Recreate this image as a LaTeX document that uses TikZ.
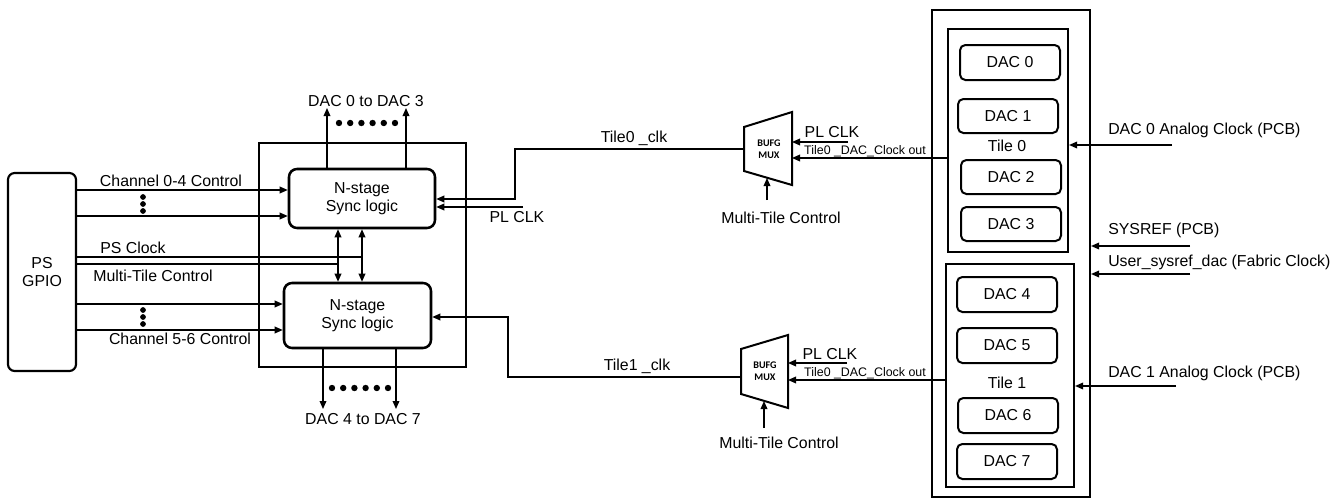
\documentclass[tikz,border=0pt]{standalone}
\usepackage{fontspec}
\setmainfont{Liberation Sans}
\newfontfamily\carl{Carlito}
\usetikzlibrary{arrows.meta,fit}
\begin{document}
\begin{tikzpicture}[x=0.75pt,y=-0.75pt,
  font=\fontsize{11.9}{14}\selectfont,
  ln/.style={line width=1pt},
  arr/.style={ln,-{Triangle[length=6pt,width=5pt]}},
  darr/.style={ln,{Triangle[length=6pt,width=5pt]}-{Triangle[length=6pt,width=5pt]}},
  thickbox/.style={draw,line width=1.6pt,inner sep=0pt},
  rbox/.style={draw,line width=1.9pt,rounded corners=6pt,inner sep=0pt},
  dacbox/.style={draw,line width=1.5pt,rounded corners=4pt,inner sep=0pt},
  lbl/.style={inner sep=0pt},
  ctext/.style={inner sep=0pt,align=center},
  small/.style={inner sep=0pt,font=\fontsize{9.3}{11}\selectfont},
  dot/.style={circle,fill,inner sep=0pt,minimum size=4.8pt},
  vdot/.style={circle,fill,inner sep=0pt,minimum size=4.3pt},
  muxs/.style={draw,line width=1.5pt,line join=miter},
  muxt/.style={inner sep=0pt,align=center,font=\carl\bfseries\fontsize{7.6}{9}\selectfont}
]
\useasboundingbox (0,0) rectangle (1343,500);

% ---------- left part ----------
\node[rbox,rounded corners=5pt,line width=1.6pt,fit={(8,173)(76,371)}] (gpio) {};
\node[ctext] (gpiot) at (gpio.center) {PS\\GPIO};
\node[thickbox,fit={(259,143)(466,367)}] (blk) {};
\node[rbox,fit={(289,169)(435,228)}] (s0) {};
\node[ctext,font=\fontsize{11.9}{13.5}\selectfont] (s0t) at (s0.center) {N-stage\\Sync logic};
\node[rbox,fit={(284,283)(431,348)}] (s1) {};
\node[ctext,font=\fontsize{11.9}{13.5}\selectfont] (s1t) at (s1.center) {N-stage\\Sync logic};

% channel 0-4
\node[lbl] (ch04) at (171,181) {Channel 0-4 Control};
\draw[arr] (gpio.east |- 0,190) -- (s0.west |- 0,190);
\draw[arr] (gpio.east |- 0,216) -- (s0.west |- 0,216);
\foreach \i/\y in {1/197,2/204,3/211} \node[vdot] (va\i) at (143,\y) {};

% PS clock / multi-tile control
\node[lbl] (psclk) at (133,248) {PS Clock};
\node[lbl] (mtc) at (153,276) {Multi-Tile Control};
\draw[ln] (gpio.east |- 0,257) -- (362,257);
\draw[ln] (gpio.east |- 0,264) -- (338,264);
\draw[darr] (s0.south -| 338,0) -- (s1.north -| 338,0);
\draw[darr] (s0.south -| 362,0) -- (s1.north -| 362,0);

% channel 5-6
\draw[arr] (gpio.east |- 0,304) -- (s1.west |- 0,304);
\draw[arr] (gpio.east |- 0,330) -- (s1.west |- 0,330);
\foreach \i/\y in {1/310,2/317,3/324} \node[vdot] (vb\i) at (143,\y) {};
\node[lbl] (ch56) at (180,339) {Channel 5-6 Control};

% DAC outputs
\coordinate (o03a) at (327,108);
\coordinate (o03b) at (406,108);
\draw[arr] (s0.north -| o03a) -- (o03a);
\draw[arr] (s0.north -| o03b) -- (o03b);
\foreach \i in {0,...,5} \node[dot] (ha\i) at (339+11.2*\i,123) {};
\node[lbl] (t03) at (366,101) {DAC 0 to DAC 3};

\coordinate (o47a) at (323,409);
\coordinate (o47b) at (396,409);
\draw[arr] (s1.south -| o47a) -- (o47a);
\draw[arr] (s1.south -| o47b) -- (o47b);
\foreach \i in {0,...,5} \node[dot] (hb\i) at (332+11.2*\i,388) {};
\node[lbl] (t47) at (363,419) {DAC 4 to DAC 7};

% ---------- muxes ----------
\draw[muxs] (744,127) -- (792,112) -- (792,185) -- (744,171) -- cycle;
\node[muxt] (mux0) at (769,149) {BUFG\\MUX};
\coordinate (m0in) at (744,149);
\coordinate (m0r1) at (792,142);
\coordinate (m0r2) at (792,158);
\coordinate (m0b) at (767,178);

\draw[muxs] (741,349) -- (788,335) -- (788,408) -- (741,394) -- cycle;
\node[muxt] (mux1) at (765,371) {BUFG\\MUX};
\coordinate (m1in) at (741,377);
\coordinate (m1r1) at (788,363);
\coordinate (m1r2) at (788,380);
\coordinate (m1b) at (764,401);

% tile clocks to sync logic
\draw[arr] (m0in) -- (515,149) -- (515,199) -- (s0.east |- 0,199);
\node[lbl] (t0clk) at (634,138) {Tile0 \_clk};
\coordinate (plA) at (523,207);
\draw[arr] (plA) -- (s0.east |- plA);
\node[lbl] (plclkA) at (517,217) {PL CLK};

\draw[arr] (m1in) -- (508,377) -- (508,317) -- (s1.east |- 0,317);
\node[lbl] (t1clk) at (637,366) {Tile1 \_clk};

% ---------- right part ----------
\node[thickbox,fit={(932,10)(1090,497)}] (adc) {};
\node[thickbox,fit={(948,29)(1068,252)}] (tile0) {};
\node[thickbox,fit={(946,264)(1074,487)}] (tile1) {};
\node[lbl] (tl0) at (1007,146) {Tile 0};
\node[lbl] (tl1) at (1007,383) {Tile 1};

\foreach \n/\a/\b/\c/\d in {0/960/45/1060/80, 1/958/99/1058/133, 2/961/160/1061/194, 3/961/207/1061/241,
                          4/957/277/1057/312, 5/957/328/1057/363, 6/958/398/1058/433, 7/957/444/1057/479} {
  \node[dacbox,fit={(\a,\b)(\c,\d)}] (dac\n) {};
  \node[lbl] (dac\n t) at (dac\n.center) {DAC \n};
}

% mux inputs
\coordinate (plB) at (848,142);
\draw[arr] (plB) -- (m0r1);
\node[lbl] (plclkB) at (832,132) {PL CLK};
\draw[arr] (tile0.west |- 0,158) -- (m0r2);
\node[small] (co0) at (865,151) {Tile0 \_DAC\_Clock out};
\coordinate (mtA) at (767,200);
\draw[arr] (mtA) -- (m0b);
\node[lbl] (mtcA) at (781,218) {Multi-Tile Control};

\coordinate (plC) at (847,363);
\draw[arr] (plC) -- (m1r1);
\node[lbl] (plclkC) at (830,354) {PL CLK};
\draw[arr] (tile1.west |- 0,380) -- (m1r2);
\node[small] (co1) at (865,373) {Tile0 \_DAC\_Clock out};
\coordinate (mtB) at (764,428);
\draw[arr] (mtB) -- (m1b);
\node[lbl] (mtcB) at (779,443) {Multi-Tile Control};

% external clocks
\coordinate (ac0) at (1172,145);
\draw[arr] (ac0) -- (tile0.east |- ac0);
\node[lbl,anchor=west] (lac0) at (1108,130) {DAC 0 Analog Clock (PCB)};
\coordinate (sr) at (1190,246);
\draw[arr] (sr) -- (adc.east |- sr);
\node[lbl,anchor=west] (lsr) at (1108,230) {SYSREF (PCB)};
\coordinate (us) at (1190,274);
\draw[arr] (us) -- (adc.east |- us);
\node[lbl,anchor=west] (lus) at (1108,262) {User\_sysref\_dac (Fabric Clock)};
\coordinate (ac1) at (1176,386);
\draw[arr] (ac1) -- (tile1.east |- ac1);
\node[lbl,anchor=west] (lac1) at (1108,373) {DAC 1 Analog Clock (PCB)};
\end{tikzpicture}
\end{document}
